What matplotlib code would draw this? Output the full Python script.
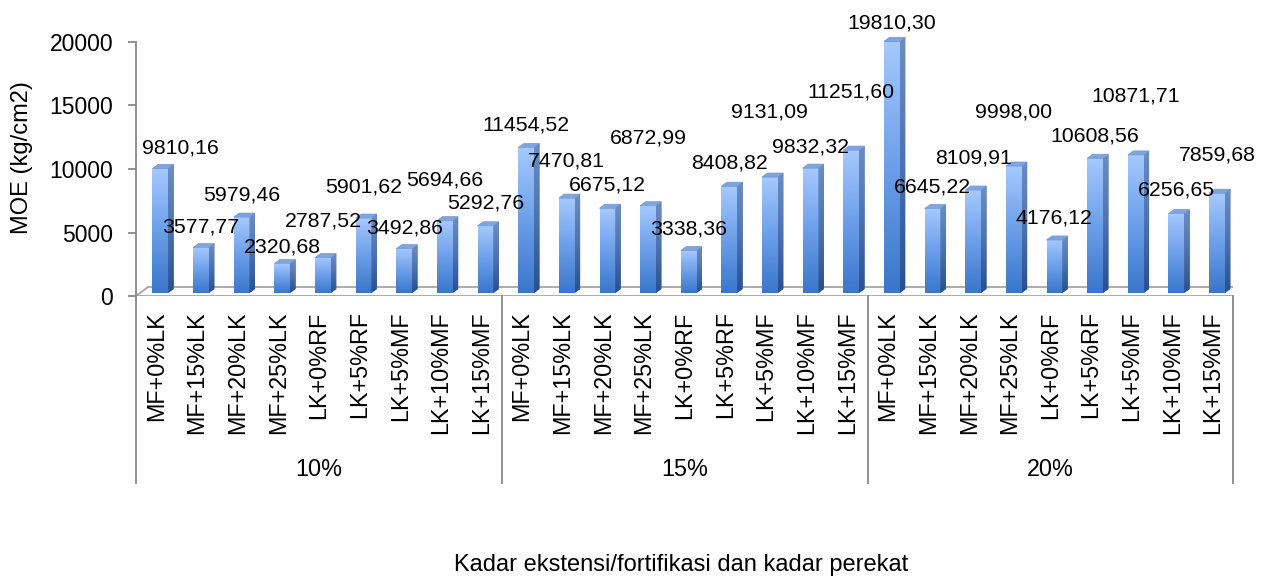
import numpy as np
import matplotlib
matplotlib.use("Agg")
import matplotlib.pyplot as plt
from matplotlib.colors import LinearSegmentedColormap
from matplotlib.patches import Polygon
from matplotlib.transforms import blended_transform_factory

plt.rcParams['font.family'] = ['Liberation Sans', 'DejaVu Sans']

# ---------------- data ----------------
groups = ['10%', '15%', '20%']
treatments = ['MF+0%LK', 'MF+15%LK', 'MF+20%LK', 'MF+25%LK', 'LK+0%RF',
              'LK+5%RF', 'LK+5%MF', 'LK+10%MF', 'LK+15%MF']
moe_10 = [9810.16, 3577.77, 5979.46, 2320.68, 2787.52, 5901.62, 3492.86, 5694.66, 5292.76]
moe_15 = [11454.52, 7470.81, 6675.12, 6872.99, 3338.36, 8408.82, 9131.09, 9832.32, 11251.60]
moe_20 = [19810.30, 6645.22, 8109.91, 9998.00, 4176.12, 10608.56, 10871.71, 6256.65, 7859.68]
y_ticks = [0, 5000, 10000, 15000, 20000]
y_label = 'MOE (kg/cm2)'
x_label = 'Kadar ekstensi/fortifikasi dan kadar perekat'

# label nudges (pixels) as placed in the original chart
label_dx = [20, 0, 0, 0, 0, 0, 0, 0, 0,
            0, 0, 0, 0, 0, 0, 0, 0, 0,
            0, 0, 0, 0, 0, 0, 0, 0, 0]
label_dy = [23, 24, 25, 20, 40, 34, 24, 44, 26,
            26, 40, 26, 71, 25, 26, 68, 24, 61,
            21, 25, 35, 57, 25, 25, 62, 27, 41]

values = moe_10 + moe_15 + moe_20
cats = treatments * len(groups)
n = len(values)
x = np.arange(n)

# ---------------- figure ----------------
W, H = 1266, 577
fig = plt.figure(figsize=(W / 100, H / 100), dpi=100)
ax_left, ax_right = 136, 1233.3
y0_px, y20k_px = 296, 42
ymax = 21000
px_per_unit = (y0_px - y20k_px) / 20000
ax_top_px = y0_px - ymax * px_per_unit
ax = fig.add_axes([ax_left / W, (H - y0_px) / H, (ax_right - ax_left) / W,
                   (y0_px - ax_top_px) / H])
ax.set_xlim(-0.5, n - 0.5)
ax.set_ylim(0, ymax)

pxx = n / (ax_right - ax_left)      # data units per pixel (x)
pxy = 1 / px_per_unit               # data units per pixel (y)

gray = '#888888'

# floor
fdx, fdy = 12 * pxx, 9 * pxy
floor = Polygon([(-0.5, 0), (n - 0.5, 0), (n - 0.5 + fdx, fdy), (-0.5 + fdx, fdy)],
                closed=True, facecolor='white', edgecolor='#A6A6A6', lw=1.3, zorder=1)
ax.add_patch(floor)

front_cmap = LinearSegmentedColormap.from_list('front', ['#3A76CB', '#6C9FE9', '#A6C9FF'])
side_cmap = LinearSegmentedColormap.from_list('side', ['#284F8E', '#4C73B0', '#6C8DC4'])
grad = np.linspace(0, 1, 256).reshape(-1, 1)

base = 3 * pxy
bw = 15.7 * pxx
shift = 4 * pxx
sdx, sdy = 5.5 * pxx, 4 * pxy

bars = ax.bar(x + shift, values, width=bw, bottom=base, color='#5B8FDB',
              linewidth=0, zorder=3)
for i, (rect, v) in enumerate(zip(bars, values)):
    x0 = rect.get_x()
    x1 = x0 + rect.get_width()
    top = base + v
    im = ax.imshow(grad, extent=[x0, x1, base, top], origin='lower', cmap=front_cmap,
                   aspect='auto', zorder=3.1, interpolation='bilinear')
    im.set_clip_path(rect)
    side = Polygon([(x1, base), (x1, top), (x1 + sdx, top + sdy), (x1 + sdx, base + sdy)],
                   closed=True, facecolor='#3D66A6', edgecolor='none', zorder=3)
    ax.add_patch(side)
    ims = ax.imshow(grad, extent=[x1, x1 + sdx, base, top + sdy], origin='lower',
                    cmap=side_cmap, aspect='auto', zorder=3.1, interpolation='bilinear')
    ims.set_clip_path(side)
    topf = Polygon([(x0, top), (x1, top), (x1 + sdx, top + sdy), (x0 + sdx, top + sdy)],
                   closed=True, facecolor='#7EA5DF', edgecolor='#6F94CE', lw=0.5, zorder=3.2)
    ax.add_patch(topf)

ax.set_xlim(-0.5, n - 0.5)
ax.set_ylim(0, ymax)

# data labels
for i, v in enumerate(values):
    ax.annotate(f"{v:.2f}".replace('.', ','), xy=(x[i] + shift + 0 * bw, v),
                xytext=(label_dx[i], label_dy[i]), textcoords='offset pixels',
                ha='center', va='center', fontsize=15.3, color='black',
                annotation_clip=False, zorder=6)

# axes styling
for s in ['top', 'right', 'bottom']:
    ax.spines[s].set_visible(False)
ax.spines['left'].set_color(gray)
ax.spines['left'].set_linewidth(1.3)
ax.spines['left'].set_bounds(0, 20000)
ax.set_yticks(y_ticks)
ax.set_yticklabels([str(t) for t in y_ticks])
ax.tick_params(axis='y', length=5.8, width=1.3, color=gray, labelsize=16.5, pad=10.5)
ax.set_xticks(x)
ax.set_xticklabels(cats, rotation=90)
ax.tick_params(axis='x', length=0, labelsize=16.8, pad=11)
ax.patch.set_visible(False)

# group separators and group labels
tr = blended_transform_factory(ax.transData, ax.transAxes)
ax_h_px = y0_px - ax_top_px
sep_bottom = (y0_px - 483) / ax_h_px
for k in range(len(groups) + 1):
    xs = k * len(treatments) - 0.5
    ax.plot([xs, xs], [0, sep_bottom], transform=tr, color=gray, lw=1.3, clip_on=False)
glab_y = (y0_px - 470) / ax_h_px
for k, g in enumerate(groups):
    xc = k * len(treatments) + (len(treatments) - 1) / 2
    ax.text(xc, glab_y, g, transform=tr, ha='center', va='center', fontsize=16.8)

fig.text(681 / W, 1 - 565 / H, x_label, ha='center', va='center', fontsize=17)
fig.text(21.7 / W, 1 - 158 / H, y_label, ha='center', va='center', rotation=90, fontsize=17)

fig.savefig('out.png', dpi=100)
